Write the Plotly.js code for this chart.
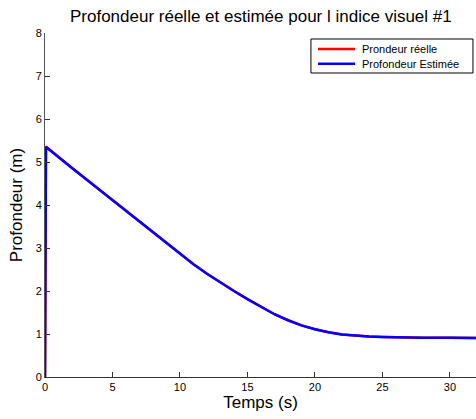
<!DOCTYPE html>
<html>
<head>
<meta charset="utf-8">
<script src="https://cdn.plot.ly/plotly-3.0.1.min.js"></script>
<style>html,body{margin:0;padding:0;background:#fff;}#chart{width:476px;height:419px;}</style>
</head>
<body>
<div id="chart"></div>
<script>
var temps = [0, 0.07, 2, 4, 6, 8, 9, 10, 11, 12, 13, 14, 15, 16, 17, 18, 19, 20, 21, 22, 23, 24, 25, 26, 28, 30, 32];
var profondeurReelle = [0, 5.36, 4.86, 4.36, 3.86, 3.36, 3.11, 2.86, 2.62, 2.40, 2.19, 2.00, 1.81, 1.63, 1.46, 1.32, 1.20, 1.11, 1.04, 0.99, 0.96, 0.94, 0.93, 0.92, 0.915, 0.91, 0.905];
var profondeurEstimee = [0, 5.35, 4.86, 4.36, 3.86, 3.36, 3.11, 2.86, 2.62, 2.40, 2.19, 2.00, 1.81, 1.63, 1.46, 1.32, 1.20, 1.11, 1.04, 0.99, 0.96, 0.94, 0.93, 0.92, 0.915, 0.91, 0.905];
var xTicks = [0, 5, 10, 15, 20, 25, 30];
var yTicks = [0, 1, 2, 3, 4, 5, 6, 7, 8];
var seriesNames = ["Prondeur réelle", "Profondeur Estimée"];
var seriesColors = ["#ff0000", "#0000ff"];

var font = "Liberation Sans, Arial, Helvetica, sans-serif";
var traces = [
  {x: temps, y: profondeurReelle, type: "scatter", mode: "lines", name: seriesNames[0],
   line: {color: seriesColors[0], width: 2.5}},
  {x: temps, y: profondeurEstimee, type: "scatter", mode: "lines", name: seriesNames[1],
   line: {color: seriesColors[1], width: 2.5}}
];

// custom legend (MATLAB-style compact box)
var legY = [0.9535, 0.9108];
var shapes = [{type: "rect", xref: "paper", yref: "paper", x0: 0.617, x1: 0.993, y0: 0.8837, y1: 0.9826,
               line: {color: "#000", width: 1}, fillcolor: "#fff", layer: "above"}];
var annotations = [];
for (var i = 0; i < seriesNames.length; i++) {
  shapes.push({type: "line", xref: "paper", yref: "paper", x0: 0.6334, x1: 0.7193, y0: legY[i], y1: legY[i],
               line: {color: seriesColors[i], width: 2.5}, layer: "above"});
  annotations.push({xref: "paper", yref: "paper", x: 0.7309, y: legY[i], xanchor: "left", yanchor: "middle",
                    text: seriesNames[i], showarrow: false, font: {family: font, size: 11, color: "#000"}});
}

var layout = {
  width: 476, height: 419,
  margin: {l: 45, r: 0, t: 33, b: 42, pad: 0},
  paper_bgcolor: "#fff", plot_bgcolor: "#fff",
  font: {family: font, color: "#000", size: 11},
  title: {text: "Profondeur réelle et estimée pour l indice visuel #1",
          font: {family: font, size: 17, color: "#000"},
          x: 0.548, xanchor: "center", y: 0.962, yanchor: "middle"},
  xaxis: {range: [0, 31.93], tickvals: xTicks, ticks: "inside", ticklen: 5, tickcolor: "#333",
          showline: true, linecolor: "#333", linewidth: 1, showgrid: false, zeroline: false,
          tickfont: {family: font, size: 11, color: "#000"},
          title: {text: "Temps (s)", font: {family: font, size: 17, color: "#000"}, standoff: 2}},
  yaxis: {range: [0, 8], tickvals: yTicks, ticks: "inside", ticklen: 5, tickcolor: "#333",
          showline: true, linecolor: "#555", linewidth: 1, showgrid: false, zeroline: false,
          tickfont: {family: font, size: 11, color: "#000"},
          title: {text: "Profondeur (m)", font: {family: font, size: 17, color: "#000"}, standoff: 8}},
  showlegend: false,
  shapes: shapes,
  annotations: annotations
};
Plotly.newPlot("chart", traces, layout, {displayModeBar: false, staticPlot: true});
</script>
</body>
</html>
